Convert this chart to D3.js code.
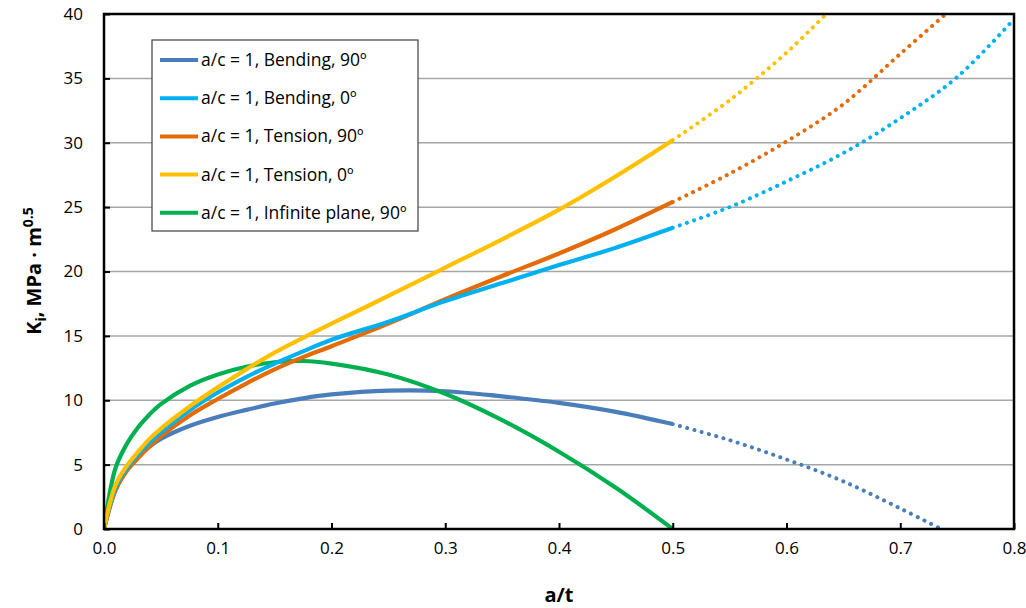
<html>
<script src="https://d3js.org/d3.v7.min.js"></script>
<style>
body {margin:0; background:#fff;}
text {font-family: "Open Sans", Lato, sans-serif; fill:#000;}
</style>
<body>
<svg width="1026" height="608"></svg>
<script>
// a/t values for the solid (computed) part of every curve
var aSolid = [0, 0.01, 0.02, 0.03, 0.04, 0.05, 0.075, 0.1, 0.125, 0.15, 0.175, 0.2, 0.25, 0.3, 0.35, 0.4, 0.45, 0.5];

var bend90  = [0, 3.0, 4.6, 5.6, 6.4, 7.0, 8.0, 8.7, 9.25, 9.75, 10.15, 10.45, 10.75, 10.7, 10.3, 9.8, 9.1, 8.15];
var bend0   = [0, 3.2, 4.7, 5.8, 6.7, 7.5, 9.2, 10.6, 11.8, 12.85, 13.8, 14.7, 16.1, 17.7, 19.1, 20.5, 21.85, 23.4];
var tens90  = [0, 3.0, 4.5, 5.5, 6.4, 7.2, 8.8, 10.1, 11.3, 12.4, 13.35, 14.2, 15.95, 17.85, 19.65, 21.4, 23.3, 25.4];
var tens0   = [0, 3.4, 4.9, 6.0, 7.0, 7.8, 9.5, 11.0, 12.4, 13.7, 14.85, 15.95, 18.1, 20.3, 22.5, 24.8, 27.4, 30.2];
var infin90 = [0, 4.7, 6.6, 7.9, 8.9, 9.7, 11.1, 12.0, 12.6, 12.95, 13.05, 12.85, 12.0, 10.5, 8.45, 6.0, 3.2, 0];

// dotted extrapolations beyond a/t = 0.5
var bend90ExtA = [0.5, 0.55, 0.6, 0.65, 0.7, 0.736];
var bend90Ext  = [8.15, 6.9, 5.4, 3.7, 1.6, 0];
var bend0ExtA  = [0.5, 0.55, 0.6, 0.65, 0.7, 0.75, 0.8];
var bend0Ext   = [23.4, 25.0, 27.0, 29.2, 31.9, 35.1, 39.6];
var tens90ExtA = [0.5, 0.55, 0.6, 0.65, 0.7, 0.74];
var tens90Ext  = [25.4, 27.6, 30.1, 33.0, 36.9, 40];
var tens0ExtA  = [0.5, 0.55, 0.6, 0.635];
var tens0Ext   = [30.2, 33.3, 37.0, 40];

var seriesNames = ["a/c = 1, Bending, 90º", "a/c = 1, Bending, 0º", "a/c = 1, Tension, 90º", "a/c = 1, Tension, 0º", "a/c = 1, Infinite plane, 90º"];
var colors = ["#4a7ebb", "#00b0f0", "#e36c09", "#ffc000", "#00b050"];

var xTicks = [0, 0.1, 0.2, 0.3, 0.4, 0.5, 0.6, 0.7, 0.8];
var yTicks = [0, 5, 10, 15, 20, 25, 30, 35, 40];

var pLeft = 104, pRight = 1014, pTop = 14, pBottom = 529;
var xs = d3.scaleLinear().domain([0, 0.8]).range([pLeft, pRight]);
var ys = d3.scaleLinear().domain([0, 40]).range([pBottom, pTop]);

var svg = d3.select("svg");

svg.append("defs").append("clipPath").attr("id", "plot")
   .append("rect").attr("x", pLeft).attr("y", pTop).attr("width", pRight - pLeft).attr("height", pBottom - pTop);

// gridlines
svg.append("g").selectAll("line").data(yTicks.slice(1)).enter().append("line")
   .attr("x1", pLeft).attr("x2", pRight)
   .attr("y1", function(d){return ys(d);}).attr("y2", function(d){return ys(d);})
   .style("stroke", "#a6a6a6").style("stroke-width", 1.5);

function pairs(xa, va){ return xa.map(function(x, i){ return [x, va[i]]; }); }

var line = d3.line()
   .x(function(d){return xs(d[0]);})
   .y(function(d){return ys(d[1]);})
   .curve(d3.curveCatmullRom.alpha(0.5));

var solid = [bend90, bend0, tens90, tens0, infin90];
var dotted = [[bend90ExtA, bend90Ext], [bend0ExtA, bend0Ext], [tens90ExtA, tens90Ext], [tens0ExtA, tens0Ext]];

var plot = svg.append("g").attr("clip-path", "url(#plot)");

dotted.forEach(function(d, i){
  plot.append("path").attr("d", line(pairs(d[0], d[1])))
     .style("fill", "none").style("stroke", colors[i]).style("stroke-width", 4)
     .style("stroke-linecap", "round").style("stroke-dasharray", "0.1 7.4");
});

// draw order: Bending 90 first, infinite plane on top
[0, 4, 2, 1, 3].forEach(function(i){
  plot.append("path").attr("d", line(pairs(aSolid, solid[i])))
     .style("fill", "none").style("stroke", colors[i]).style("stroke-width", 4.2)
     .style("stroke-linejoin", "round");
});

// axes
svg.append("g").attr("transform", "translate(0," + pBottom + ")")
   .call(d3.axisBottom(xs).tickValues(xTicks).tickSizeInner(-6).tickSizeOuter(0).tickPadding(13).tickFormat(d3.format(".1f")))
   .call(function(g){
     g.select(".domain").remove();
     g.selectAll("line").style("stroke", "#000").style("stroke-width", 2);
     g.selectAll("text").style("font-size", "17px").style("font-family", "'Open Sans', sans-serif");
   });

svg.append("g").attr("transform", "translate(" + pLeft + ",0)")
   .call(d3.axisLeft(ys).tickValues(yTicks).tickSizeInner(-6).tickSizeOuter(0).tickPadding(21))
   .call(function(g){
     g.select(".domain").remove();
     g.selectAll("line").style("stroke", "#000").style("stroke-width", 2);
     g.selectAll("text").style("font-size", "17px").style("font-family", "'Open Sans', sans-serif");
   });

// plot frame
svg.append("rect").attr("x", pLeft).attr("y", pTop).attr("width", pRight - pLeft).attr("height", pBottom - pTop)
   .style("fill", "none").style("stroke", "#000").style("stroke-width", 2.5);

// axis titles
svg.append("text").attr("x", (pLeft + pRight) / 2).attr("y", 602)
   .style("text-anchor", "middle").style("font-size", "20px").style("font-weight", "bold")
   .text("a/t");

var yt = svg.append("text").attr("transform", "translate(41,271) rotate(-90)")
   .style("text-anchor", "middle").style("font-size", "20px").style("font-weight", "bold");
yt.append("tspan").text("K");
yt.append("tspan").attr("dy", 5).style("font-size", "14px").text("i");
yt.append("tspan").attr("dy", -5).text(", MPa · m");
yt.append("tspan").attr("dy", -8).style("font-size", "14px").text("0.5");

// legend
var lg = svg.append("g");
lg.append("rect").attr("x", 152).attr("y", 40).attr("width", 266).attr("height", 191)
   .style("fill", "#fff").style("stroke", "#404040").style("stroke-width", 1.2);
seriesNames.forEach(function(name, i){
  var y = 60 + i * 38.2;
  lg.append("line").attr("x1", 160).attr("x2", 198).attr("y1", y).attr("y2", y)
     .style("stroke", colors[i]).style("stroke-width", 4);
  lg.append("text").attr("x", 201).attr("y", y + 6).style("font-size", "17.5px").text(name);
});
</script>
</body>
</html>
